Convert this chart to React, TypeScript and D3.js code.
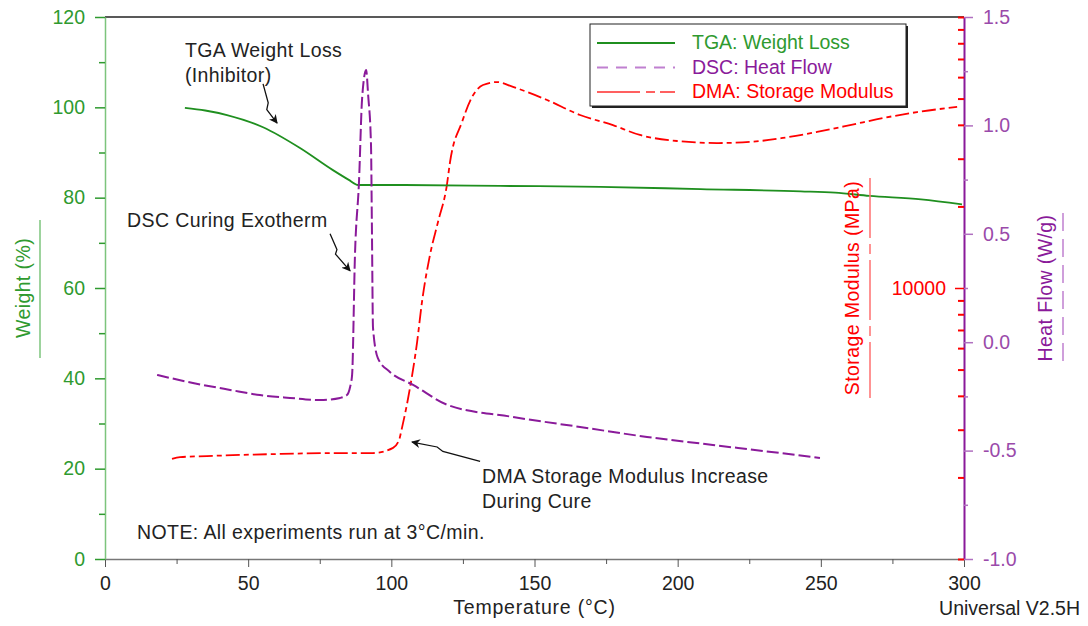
import React, { useEffect, useRef } from "react";
import * as d3 from "d3";

// TGA: weight (%) vs temperature (°C)
const tgaTemp = [27.9, 35, 42.6, 55.2, 68.1, 79.6, 85, 88.4, 103, 138, 173, 208, 243, 255, 267, 285, 299.3];
const tgaWeight = [99.9, 99.3, 98.3, 95.6, 91.0, 86.1, 84.0, 82.8, 82.8, 82.6, 82.4, 81.9, 81.4, 81.1, 80.4, 79.6, 78.5];

// DSC: heat flow (W/g)
const dscTemp = [18.2, 30.7, 43.7, 54.1, 64.6, 75.1, 82.1, 84.5, 85.6, 86.3, 87.3, 88.7, 89.8, 91.2, 91.9, 92.9, 93.2, 93.6, 95.3, 99.5, 107.6, 119.8, 142.5, 165.9, 189.3, 212.3, 235.7, 249.7];
const dscHeat = [-0.151, -0.188, -0.22, -0.244, -0.257, -0.267, -0.257, -0.244, -0.207, -0.151, 0.402, 0.739, 1.126, 1.255, 1.14, 0.91, 0.554, 0.066, -0.073, -0.137, -0.197, -0.29, -0.345, -0.391, -0.437, -0.474, -0.511, -0.534];

// DMA: storage modulus (MPa)
const dmaTemp = [23.4, 26.2, 35.6, 58.7, 82.1, 93.6, 100.6, 102.7, 103.7, 106.5, 109.0, 110.7, 113.5, 116.3, 119.4, 120.5, 124.7, 128.2, 132.0, 136.9, 142.5, 154.4, 165.9, 177.4, 186.8, 199.8, 213.7, 225.3, 236.8, 248.7, 260.2, 271.7, 283.6, 297.6];
const dmaModulus = [2341, 2376, 2398, 2438, 2460, 2460, 2570, 2749, 3041, 4273, 6320, 8876, 13242, 17528, 23988, 29170, 41020, 50700, 56100, 57550, 55200, 49400, 43500, 39900, 36700, 34870, 34270, 34590, 35800, 37670, 39900, 42360, 44570, 46560];

const tempTicks = [0, 50, 100, 150, 200, 250, 300];
const weightTicks = [0, 20, 40, 60, 80, 100, 120];
const heatTicks = [-1.0, -0.5, 0.0, 0.5, 1.0, 1.5];
const modulusLabelTicks = [10000];

const legendItems = ["TGA: Weight Loss", "DSC: Heat Flow", "DMA: Storage Modulus"];

const GREEN = "#1f8f1f";
const GREEN_TXT = "#2f9a2f";
const PURPLE = "#8a1a9a";
const PURPLE_TXT = "#9a4aaa";
const RED = "#ff0000";
const FONT = "'Liberation Sans', Arial, sans-serif";
const FS = 19.5;
const LS = "0.4px";

const W = 1088;
const H = 626;
const plot = { left: 105, right: 964, top: 17, bottom: 559 };

const x = d3.scaleLinear().domain([0, 300]).range([plot.left, plot.right]);
const yW = d3.scaleLinear().domain([0, 120]).range([plot.bottom, plot.top]);
const yH = d3.scaleLinear().domain([-1, 1.5]).range([plot.bottom, plot.top]);
const yS = d3.scaleLog().domain([1000, 100000]).range([plot.bottom, plot.top]);

const drawChart = (ref: SVGSVGElement) => {
    const svg = d3.select(ref);
    svg.selectAll("*").remove();

    svg.append("defs")
        .append("marker")
        .attr("id", "ah")
        .attr("viewBox", "0 0 10 10")
        .attr("refX", 9)
        .attr("refY", 5)
        .attr("markerWidth", 9)
        .attr("markerHeight", 9)
        .attr("markerUnits", "userSpaceOnUse")
        .attr("orient", "auto")
        .append("path")
        .attr("d", "M0,0 L10,5 L0,10 L3,5 Z")
        .attr("fill", "#111");

    const styleText = (g) => g.selectAll("text").style("font-family", FONT).style("font-size", `${FS}px`);

    // top frame line
    svg.append("line")
        .attr("x1", plot.left).attr("x2", plot.right)
        .attr("y1", plot.top).attr("y2", plot.top)
        .attr("stroke", "#222").attr("stroke-width", 1.5);

    // x axis
    const gx = svg.append("g").attr("transform", `translate(0,${plot.bottom})`);
    gx.call(d3.axisBottom(x).tickValues(tempTicks).tickSize(8).tickPadding(9).tickSizeOuter(0).tickFormat(d3.format("d")));
    gx.select(".domain").attr("stroke", "#777").attr("stroke-width", 1.5);
    gx.selectAll(".tick line").attr("stroke", "#555");
    styleText(gx).attr("fill", "#222");
    const gxm = svg.append("g").attr("transform", `translate(0,${plot.bottom})`);
    gxm.call(d3.axisBottom(x).tickValues(d3.range(25, 300, 50)).tickSize(5).tickFormat(() => ""));
    gxm.select(".domain").remove();
    gxm.selectAll(".tick line").attr("stroke", "#555");

    // left weight axis
    const gl = svg.append("g").attr("transform", `translate(${plot.left},0)`);
    gl.call(d3.axisLeft(yW).tickValues(weightTicks).tickSize(10).tickPadding(10).tickSizeOuter(0));
    gl.select(".domain").attr("stroke", "#7cc47c").attr("stroke-width", 1.5);
    gl.selectAll(".tick line").attr("stroke", GREEN_TXT).attr("stroke-width", 1.5);
    styleText(gl).attr("fill", GREEN_TXT);
    const glm = svg.append("g").attr("transform", `translate(${plot.left},0)`);
    glm.call(d3.axisLeft(yW).tickValues(d3.range(10, 120, 20)).tickSize(6).tickFormat(() => ""));
    glm.select(".domain").remove();
    glm.selectAll(".tick line").attr("stroke", GREEN_TXT).attr("stroke-width", 1.5);

    // right heat flow axis
    const gr = svg.append("g").attr("transform", `translate(${plot.right},0)`);
    gr.call(d3.axisRight(yH).tickValues(heatTicks).tickSize(9).tickPadding(10).tickSizeOuter(0).tickFormat((d) => d.toFixed(1)));
    gr.select(".domain").attr("stroke", PURPLE).attr("stroke-width", 2);
    gr.selectAll(".tick line").attr("stroke", "#b070c0").attr("stroke-width", 1.5);
    styleText(gr).attr("fill", PURPLE_TXT);
    const grm = svg.append("g").attr("transform", `translate(${plot.right},0)`);
    grm.call(d3.axisRight(yH).tickValues(d3.range(-0.75, 1.5, 0.5)).tickSize(4).tickFormat(() => ""));
    grm.select(".domain").remove();
    grm.selectAll(".tick line").attr("stroke", "#b070c0").attr("stroke-width", 1.5);

    // storage modulus (log) ticks on inside of right axis
    const logTicks = yS.ticks().filter((t) => !modulusLabelTicks.includes(t));
    const gs = svg.append("g").attr("transform", `translate(${plot.right},0)`);
    gs.call(d3.axisLeft(yS).tickValues(logTicks).tickSize(6).tickFormat(() => ""));
    gs.select(".domain").remove();
    gs.selectAll(".tick line").attr("stroke", RED).attr("stroke-width", 2);
    const gs2 = svg.append("g").attr("transform", `translate(${plot.right},0)`);
    gs2.call(d3.axisLeft(yS).tickValues(modulusLabelTicks).tickSize(9).tickPadding(9).tickFormat(d3.format("d")));
    gs2.select(".domain").remove();
    gs2.selectAll(".tick line").attr("stroke", RED).attr("stroke-width", 1.5);
    styleText(gs2).attr("fill", RED);

    // curves
    const tga = tgaTemp.map((t, i) => [t, tgaWeight[i]]);
    const dsc = dscTemp.map((t, i) => [t, dscHeat[i]]);
    const dma = dmaTemp.map((t, i) => [t, dmaModulus[i]]);

    svg.append("path")
        .datum(dma)
        .attr("d", d3.line().x((d) => x(d[0])).y((d) => yS(d[1])).curve(d3.curveMonotoneX))
        .attr("fill", "none")
        .attr("stroke", RED)
        .attr("stroke-width", 1.8)
        .attr("stroke-dasharray", "14,4,5,4");

    svg.append("path")
        .datum(tga)
        .attr("d", d3.line().x((d) => x(d[0])).y((d) => yW(d[1])).curve(d3.curveMonotoneX))
        .attr("fill", "none")
        .attr("stroke", GREEN)
        .attr("stroke-width", 1.8);

    svg.append("path")
        .datum(dsc)
        .attr("d", d3.line().x((d) => x(d[0])).y((d) => yH(d[1])).curve(d3.curveMonotoneX))
        .attr("fill", "none")
        .attr("stroke", PURPLE)
        .attr("stroke-width", 2)
        .attr("stroke-dasharray", "12,4");

    // legend
    const lg = svg.append("g").attr("transform", "translate(590,24)");
    lg.append("rect").attr("x", 2).attr("y", 2).attr("width", 316).attr("height", 82).attr("fill", "#222");
    lg.append("rect").attr("width", 316).attr("height", 82).attr("fill", "#fff").attr("stroke", "#222").attr("stroke-width", 1);
    const legendStyle = [
        { stroke: GREEN, dash: null, txt: GREEN_TXT },
        { stroke: "#c080d0", dash: "11,8", txt: PURPLE },
        { stroke: "#ff6060", dash: "43,6,9,5", txt: RED },
    ];
    legendItems.forEach((name, i) => {
        const cy = 19 + i * 24.5;
        lg.append("line")
            .attr("x1", 7).attr("x2", 85).attr("y1", cy).attr("y2", cy)
            .attr("stroke", legendStyle[i].stroke).attr("stroke-width", 2)
            .attr("stroke-dasharray", legendStyle[i].dash);
        lg.append("text")
            .attr("x", 102).attr("y", cy + 6)
            .attr("fill", legendStyle[i].txt)
            .style("font-family", FONT).style("font-size", `${FS}px`)
            .text(name);
    });

    // axis titles
    const rotLabel = (cx, cy, label, color) =>
        svg.append("text")
            .attr("transform", `translate(${cx},${cy}) rotate(-90)`)
            .attr("text-anchor", "middle")
            .attr("dy", "0.35em")
            .attr("fill", color)
            .style("font-family", FONT).style("font-size", `${FS}px`)
            .style("letter-spacing", LS)
            .text(label);
    rotLabel(23, 288, "Weight (%)", GREEN_TXT);
    svg.append("line").attr("x1", 40).attr("x2", 40).attr("y1", 220).attr("y2", 358).attr("stroke", "#7cc47c").attr("stroke-width", 1.5);
    rotLabel(852, 288, "Storage Modulus (MPa)", RED);
    svg.append("line").attr("x1", 870).attr("x2", 870).attr("y1", 178).attr("y2", 398)
        .attr("stroke", "#ff7070").attr("stroke-width", 1.5).attr("stroke-dasharray", "60,6,10,6");
    rotLabel(1045, 288, "Heat Flow (W/g)", PURPLE);
    svg.append("line").attr("x1", 1063).attr("x2", 1063).attr("y1", 213).attr("y2", 363)
        .attr("stroke", "#c080d0").attr("stroke-width", 1.5).attr("stroke-dasharray", "18,8");

    svg.append("text")
        .attr("x", (plot.left + plot.right) / 2).attr("y", 614)
        .attr("text-anchor", "middle").attr("fill", "#222")
        .style("font-family", FONT).style("font-size", `${FS}px`)
        .style("letter-spacing", "0.8px")
        .text("Temperature (°C)");
    svg.append("text")
        .attr("x", 1080).attr("y", 615)
        .attr("text-anchor", "end").attr("fill", "#222")
        .style("font-family", FONT).style("font-size", `${FS}px`)
        .text("Universal V2.5H");

    // annotations, positioned in temperature / weight units
    const notes = [
        { t: 27.9, w: 111.1, lines: ["TGA Weight Loss", "(Inhibitor)"], arrow: [[55.2, 105.2], [57, 101], [56.5, 99.5], [60.1, 96.5]] },
        { t: 7.7, w: 73.4, lines: ["DSC Curing Exotherm"], arrow: [[78.6, 72.0], [81, 68.5], [80.5, 67.5], [85.6, 63.8]] },
        { t: 131.7, w: 16.8, lines: ["DMA Storage Modulus Increase", "During Cure"], arrow: [[131.0, 21.6], [118, 23.8], [116, 24.8], [107.2, 25.9]] },
        { t: 11.2, w: 4.5, lines: ["NOTE: All experiments run at 3°C/min."], arrow: null },
    ];
    notes.forEach((n) => {
        const tx = svg.append("text")
            .attr("x", x(n.t)).attr("y", yW(n.w))
            .attr("fill", "#222")
            .style("font-family", FONT).style("font-size", `${FS}px`)
            .style("letter-spacing", LS);
        n.lines.forEach((l, i) => {
            tx.append("tspan").attr("x", x(n.t)).attr("dy", i === 0 ? 0 : 24.5).text(l);
        });
        if (n.arrow) {
            svg.append("path")
                .datum(n.arrow)
                .attr("d", d3.line().x((d) => x(d[0])).y((d) => yW(d[1])))
                .attr("fill", "none")
                .attr("stroke", "#111")
                .attr("stroke-width", 1.3)
                .attr("marker-end", "url(#ah)");
        }
    });
};

export default function App() {
    const svgRef = useRef(null);

    useEffect(() => {
        drawChart(svgRef.current);
    }, []);

    return (
        <svg
            ref={svgRef}
            width={W}
            height={H}
            style={{ position: "absolute", left: 0, top: 0, background: "#fff" }}
        />
    );
}
